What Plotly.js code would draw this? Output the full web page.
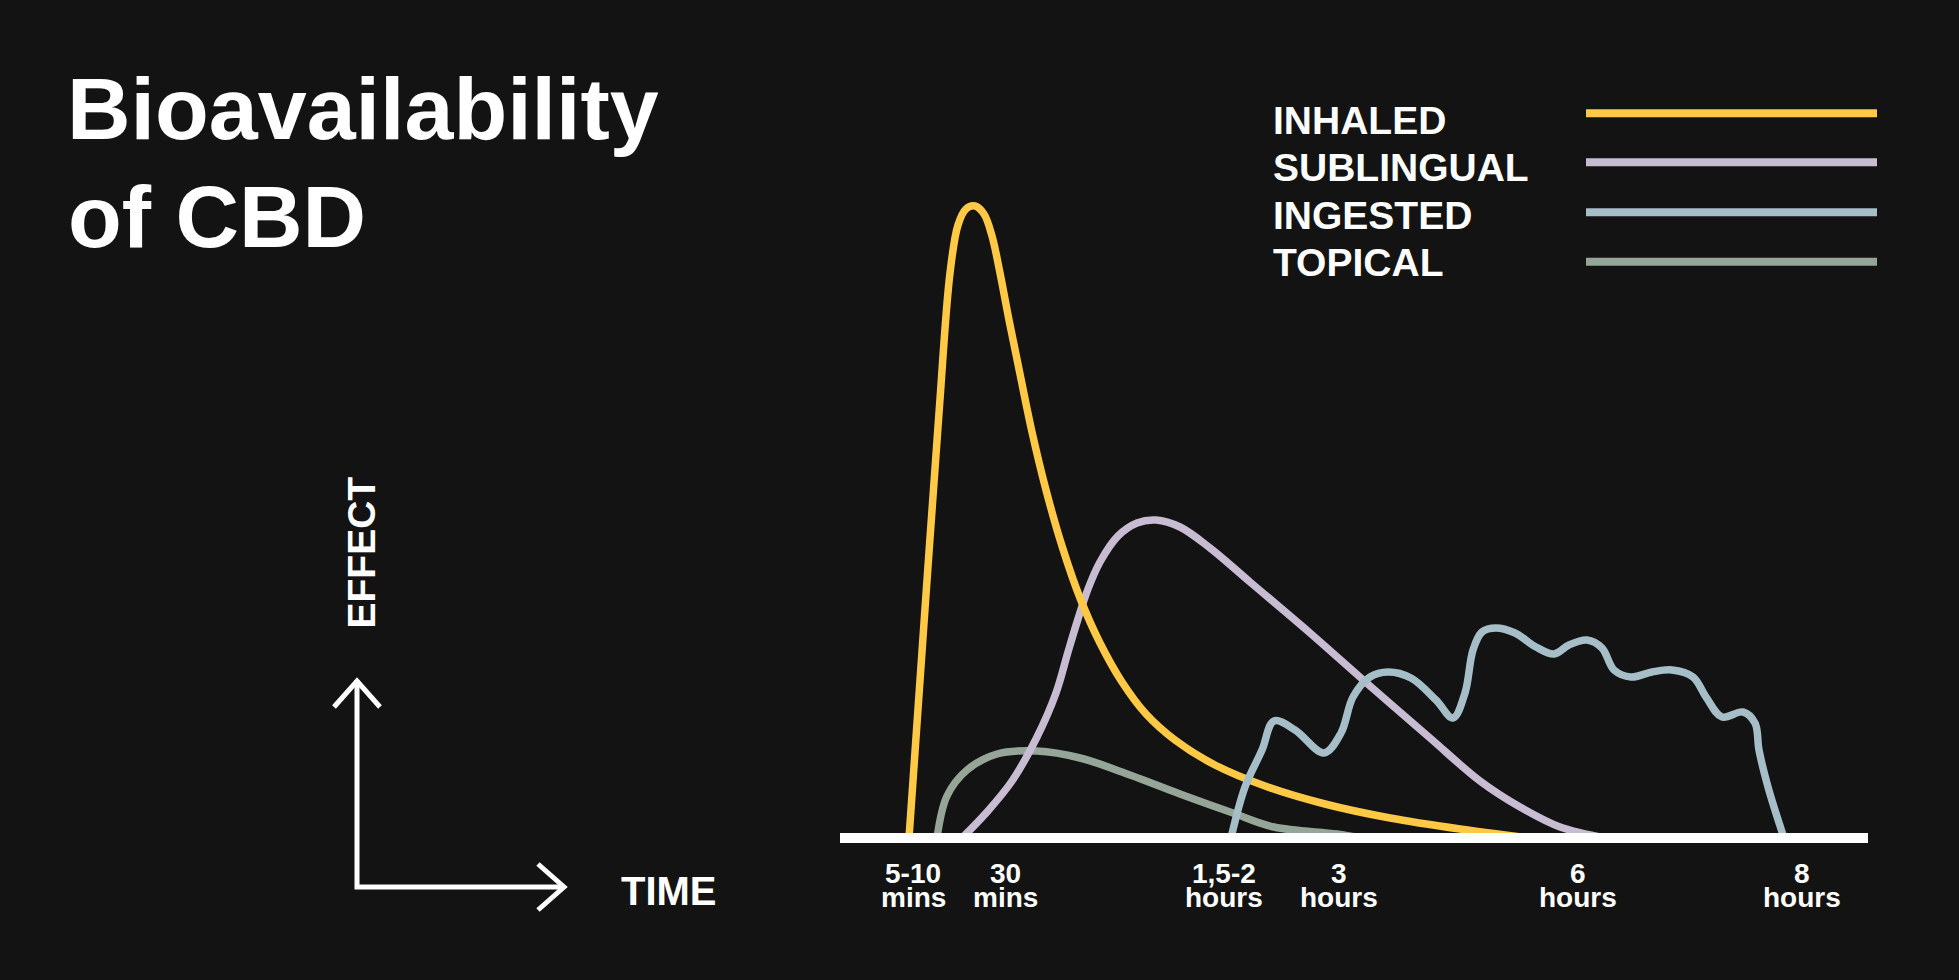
<!DOCTYPE html>
<html>
<head>
<meta charset="utf-8">
<script src="https://cdn.plot.ly/plotly-3.0.1.min.js"></script>
<style>
  html, body { margin: 0; padding: 0; background: #131313; }
  #chart { width: 1959px; height: 980px; }
</style>
</head>
<body>
<div id="chart"></div>
<script>
// ---- Data (x: position along the time axis, y: effect) ----
const seriesNames = ['INHALED', 'SUBLINGUAL', 'INGESTED', 'TOPICAL'];
const seriesColors = ['#FFC845', '#C8BCD3', '#A5BEC7', '#95A699'];

const inhaledX = [6.9, 8.4, 9.9, 11.0, 11.8, 12.6, 13.5, 14.4, 15.2, 16.0, 16.9, 18.0, 19.2, 20.6, 22.2, 24.0, 26.0, 28.2, 30.6, 33.5, 37.5, 42.5, 48.5, 55.0, 62.0, 69.0];
const inhaledY = [0, 21.5, 42.5, 56.5, 61.3, 62.9, 63.2, 62.4, 60.2, 56.5, 51.8, 46.4, 40.6, 34.8, 29.2, 24.0, 19.5, 15.6, 12.4, 9.8, 7.3, 5.2, 3.4, 2.0, 0.9, 0];

const sublingualX = [12.2, 14.7, 17.2, 19.7, 21.6, 22.8, 23.8, 24.8, 26.0, 27.8, 29.7, 31.6, 34.0, 37.0, 41.0, 47.0, 53.0, 59.0, 64.0, 68.0, 72.0, 76.6];
const sublingualY = [0, 2.6, 5.7, 10.1, 14.5, 18.6, 21.9, 24.9, 27.6, 30.2, 31.5, 31.8, 31.1, 29.0, 25.6, 20.5, 15.2, 10.0, 5.7, 3.1, 1.1, 0];

const ingestedX = [39.1, 40.5, 42.2, 43.4, 45.5, 48.4, 50.1, 51.3, 53.0, 54.8, 57.1, 59.6, 61.3, 62.5, 63.3, 64.2, 65.6, 67.5, 69.6, 71.4, 72.9, 74.7, 76.2, 77.4, 79.1, 81.2, 83.2, 85.3, 86.6, 88.2, 90.3, 91.5, 91.9, 92.8, 94.4];
const ingestedY = [0, 5.1, 8.8, 11.7, 10.8, 8.5, 10.5, 14.1, 16.1, 16.6, 16.0, 13.8, 12.0, 14.5, 18.8, 20.6, 21.0, 20.5, 19.1, 18.4, 19.3, 19.8, 19.0, 16.8, 16.1, 16.6, 16.8, 16.1, 14.1, 12.1, 12.6, 11.5, 8.8, 5.1, 0];

const topicalX = [9.7, 10.7, 12.7, 15.7, 19.7, 24.0, 29.0, 34.0, 39.3, 43.4, 49.7, 52.0];
const topicalY = [0, 4.2, 6.8, 8.4, 8.7, 8.0, 6.3, 4.4, 2.5, 1.1, 0.4, 0];

const tickVals = [7.3, 16.5, 38.4, 49.9, 73.8, 96.2];
const tickLine1 = ['5-10', '30', '1,5-2', '3', '6', '8'];
const tickLine2 = ['mins', 'mins', 'hours', 'hours', 'hours', 'hours'];

const axisMax = 102.8;

// ---- Layout geometry (pixels) ----
const W = 1959, H = 980;
const L = 840, R = 1868, T = 138, B = 848;
const px = v => (v - L) / (R - L);   // pixel x -> paper x
const py = v => (B - v) / (B - T);   // pixel y -> paper y

const FONT = '"Liberation Sans", Arial, Helvetica, sans-serif';
const WHITE = '#FFFFFF';

const xs = [inhaledX, sublingualX, ingestedX, topicalX];
const ys = [inhaledY, sublingualY, ingestedY, topicalY];
// draw order: topical, sublingual, inhaled, ingested
const order = [3, 1, 0, 2];
const traces = order.map(i => ({
  type: 'scatter', mode: 'lines', name: seriesNames[i],
  x: xs[i], y: ys[i],
  line: { color: seriesColors[i], width: 7.5, shape: 'spline', smoothing: 1 },
  hoverinfo: 'skip', showlegend: false
}));

const annotations = [];
const shapes = [];

// second title line
annotations.push({
  text: 'of CBD', xref: 'paper', yref: 'paper', x: px(66), y: py(216.5),
  xanchor: 'left', yanchor: 'middle', showarrow: false,
  font: { family: FONT, size: 88, color: WHITE, weight: 'bold' }
});

// tick labels (two lines each)
tickVals.forEach((v, i) => {
  annotations.push({
    text: tickLine1[i], xref: 'x', yref: 'paper', x: v, y: py(873),
    xanchor: 'center', yanchor: 'middle', showarrow: false,
    borderpad: 0, borderwidth: 0,
    font: { family: FONT, size: 28, color: WHITE, weight: 'bold' }
  });
  annotations.push({
    text: tickLine2[i], xref: 'x', yref: 'paper', x: v, y: py(898),
    xanchor: 'center', yanchor: 'middle', showarrow: false,
    borderpad: 0, borderwidth: 0,
    font: { family: FONT, size: 28, color: WHITE, weight: 'bold' }
  });
});

// legend (text left, line right)
const legendY = [120.5, 167.8, 215.1, 262.4];
const legendLineY = [113.3, 162.3, 212.3, 261.7];
seriesNames.forEach((n, i) => {
  annotations.push({
    text: n, xref: 'paper', yref: 'paper', x: px(1271), y: py(legendY[i]),
    xanchor: 'left', yanchor: 'middle', showarrow: false,
    font: { family: FONT, size: 39, color: WHITE, weight: 'bold' }
  });
  shapes.push({
    type: 'line', xref: 'paper', yref: 'paper',
    x0: px(1586), x1: px(1877), y0: py(legendLineY[i]), y1: py(legendLineY[i]),
    line: { color: seriesColors[i], width: 8 }
  });
});

// axis labels
annotations.push({
  text: 'EFFECT', xref: 'paper', yref: 'paper', x: px(361), y: py(552.5),
  xanchor: 'center', yanchor: 'middle', textangle: -90, showarrow: false,
  font: { family: FONT, size: 39, color: WHITE, weight: 'bold' }
});
annotations.push({
  text: 'TIME', xref: 'paper', yref: 'paper', x: px(619), y: py(890.5),
  xanchor: 'left', yanchor: 'middle', showarrow: false,
  font: { family: FONT, size: 40, color: WHITE, weight: 'bold' }
});

// axis arrows (decorative)
const P = (x, y) => px(x) + ',' + py(y);
shapes.push({ type: 'path', xref: 'paper', yref: 'paper',
  path: 'M' + P(357, 680) + ' L' + P(357, 887) + ' L' + P(564, 887),
  line: { color: WHITE, width: 5 } });
shapes.push({ type: 'path', xref: 'paper', yref: 'paper',
  path: 'M' + P(334, 707) + ' L' + P(357, 681) + ' L' + P(380, 707),
  line: { color: WHITE, width: 5 } });
shapes.push({ type: 'path', xref: 'paper', yref: 'paper',
  path: 'M' + P(538, 864) + ' L' + P(564, 887) + ' L' + P(538, 910),
  line: { color: WHITE, width: 5 } });

// baseline bar
shapes.push({ type: 'line', xref: 'x', yref: 'y', x0: 0, x1: axisMax, y0: 0, y1: 0,
  layer: 'above', line: { color: WHITE, width: 10 } });

const layout = {
  width: W, height: H,
  paper_bgcolor: '#131313', plot_bgcolor: '#131313',
  margin: { l: L, r: W - R, t: T, b: H - B, pad: 0 },
  title: {
    text: 'Bioavailability', xref: 'container', yref: 'container',
    x: 67 / W, xanchor: 'left', y: 1 - 108.5 / H, yanchor: 'middle',
    font: { family: FONT, size: 88, color: WHITE, weight: 'bold' }
  },
  xaxis: { range: [0, axisMax], visible: false, fixedrange: true },
  yaxis: { range: [-1, 70], visible: false, fixedrange: true },
  showlegend: false,
  annotations: annotations,
  shapes: shapes
};

Plotly.newPlot('chart', traces, layout, { staticPlot: true, displayModeBar: false });
</script>
</body>
</html>
